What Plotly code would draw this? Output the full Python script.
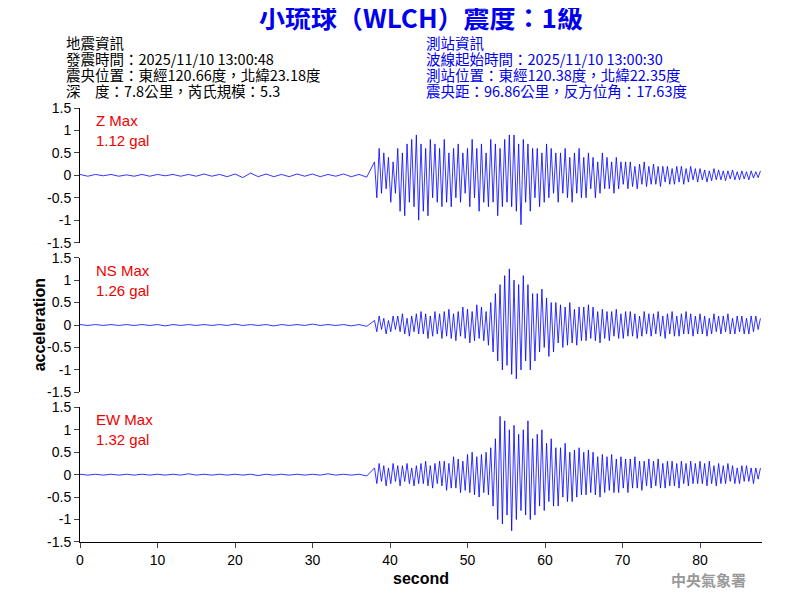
import numpy as np
import plotly.graph_objects as go

pre_dt = 1.0
ev_dt = 0.3
ev_start = 38.0

z_pre = [0.02,-0.02,0.02,-0.01,0.02,-0.02,0.01,-0.02,0.02,-0.02,0.02,-0.01,0.02,-0.02,0.02,-0.02,0.03,-0.02,0.02,-0.03,0.03,-0.05,0.05,-0.03,0.03,-0.03,0.02,-0.03,0.03,-0.02,0.03,-0.03,0.02,-0.02,0.03,-0.03,0.02,-0.04]
ns_pre = [0.01,-0.01,0.01,-0.01,0.01,-0.01,0.01,-0.01,0.01,-0.01,0.01,-0.02,0.01,-0.01,0.01,-0.01,0.01,-0.01,0.01,-0.01,0.02,-0.01,0.01,-0.01,0.01,-0.02,0.01,-0.01,0.01,-0.01,0.02,-0.01,0.01,-0.01,0.01,-0.02,0.01,-0.03]
ew_pre = [0.01,-0.01,0.01,-0.01,0.01,-0.01,0.01,-0.01,0.01,-0.01,0.01,-0.01,0.01,-0.01,0.02,-0.01,0.01,-0.01,0.01,-0.01,0.01,-0.01,0.01,-0.02,0.01,-0.01,0.01,-0.01,0.01,-0.01,0.01,-0.01,0.02,-0.01,0.01,-0.01,0.01,-0.03]

z_ev = [0.3,-0.5,0.6,-0.4,0.5,-0.3,0.4,-0.6,0.3,-0.4,
0.6,-0.8,0.5,-0.9,0.7,-0.6,0.8,-0.7,0.9,-1.0,
0.7,-0.8,0.6,-0.9,0.8,-0.5,0.7,-0.6,0.6,-0.7,
0.8,-0.6,0.5,-0.7,0.6,-0.5,0.7,-0.6,0.5,-0.4,
0.6,-0.7,0.8,-0.5,0.6,-0.8,0.7,-0.6,0.5,-0.7,
0.8,-0.6,0.7,-0.9,0.6,-0.7,0.8,-0.6,0.9,-0.7,
0.9,-0.8,0.7,-1.1,0.8,-0.6,0.7,-0.8,0.6,-0.5,
0.6,-0.7,0.5,-0.6,0.7,-0.5,0.6,-0.4,0.5,-0.6,
0.5,-0.4,0.6,-0.5,0.4,-0.6,0.5,-0.4,0.6,-0.5,
0.4,-0.5,0.5,-0.3,0.4,-0.5,0.3,-0.4,0.5,-0.3,
0.4,-0.3,0.3,-0.4,0.4,-0.3,0.3,-0.2,0.3,-0.3,
0.3,-0.25,0.2,-0.3,0.25,-0.2,0.3,-0.25,0.2,-0.2,
0.25,-0.2,0.2,-0.25,0.2,-0.15,0.2,-0.2,0.15,-0.2,
0.2,-0.15,0.2,-0.2,0.15,-0.15,0.2,-0.1,0.15,-0.15,
0.15,-0.1,0.12,-0.15,0.1,-0.12,0.15,-0.1,0.12,-0.1,
0.1,-0.12,0.1,-0.08,0.12,-0.1,0.08,-0.1,0.1,-0.08,
0.08,-0.1,0.1,-0.06,0.08,-0.05,0.1]

ns_ev = [0.1,-0.15,0.2,-0.1,0.15,-0.2,0.1,-0.15,0.2,-0.1,
0.2,-0.15,0.25,-0.2,0.15,-0.25,0.2,-0.15,0.25,-0.2,
0.3,-0.2,0.25,-0.3,0.2,-0.25,0.3,-0.2,0.25,-0.3,
0.3,-0.25,0.35,-0.3,0.25,-0.35,0.3,-0.25,0.4,-0.3,
0.35,-0.4,0.3,-0.35,0.45,-0.3,0.4,-0.35,0.3,-0.45,
0.5,-0.6,0.7,-0.8,0.9,-1.0,1.1,-0.9,1.25,-1.1,
1.0,-1.2,0.9,-1.0,1.1,-0.8,0.9,-1.0,0.7,-0.8,
0.7,-0.6,0.8,-0.5,0.6,-0.7,0.5,-0.6,0.5,-0.4,
0.45,-0.5,0.4,-0.45,0.5,-0.4,0.35,-0.45,0.4,-0.35,
0.4,-0.35,0.45,-0.3,0.4,-0.35,0.3,-0.4,0.35,-0.3,
0.3,-0.35,0.3,-0.25,0.35,-0.3,0.25,-0.3,0.3,-0.25,
0.3,-0.25,0.25,-0.3,0.2,-0.25,0.3,-0.2,0.25,-0.25,
0.25,-0.2,0.3,-0.25,0.2,-0.3,0.25,-0.2,0.3,-0.25,
0.2,-0.25,0.25,-0.2,0.3,-0.2,0.25,-0.25,0.2,-0.2,
0.25,-0.2,0.2,-0.25,0.15,-0.2,0.25,-0.15,0.2,-0.2,
0.2,-0.15,0.25,-0.2,0.15,-0.2,0.2,-0.15,0.2,-0.2,
0.15,-0.2,0.2,-0.15,0.2,-0.1,0.15]

ew_ev = [0.15,-0.2,0.25,-0.15,0.2,-0.25,0.15,-0.2,0.25,-0.15,
0.2,-0.25,0.2,-0.15,0.25,-0.2,0.15,-0.25,0.2,-0.2,
0.25,-0.2,0.3,-0.25,0.2,-0.3,0.25,-0.2,0.3,-0.25,
0.3,-0.35,0.25,-0.3,0.4,-0.3,0.35,-0.4,0.3,-0.35,
0.45,-0.4,0.5,-0.45,0.4,-0.5,0.45,-0.4,0.5,-0.45,
0.6,-0.7,0.8,-1.0,1.3,-1.1,1.2,-0.9,1.0,-1.25,
1.1,-1.0,0.9,-0.8,1.0,-0.9,1.2,-1.0,0.8,-0.9,
0.9,-0.7,1.0,-0.8,0.7,-0.6,0.8,-0.7,0.6,-0.7,
0.6,-0.5,0.7,-0.6,0.5,-0.6,0.55,-0.5,0.6,-0.45,
0.5,-0.45,0.55,-0.4,0.5,-0.45,0.4,-0.5,0.45,-0.4,
0.4,-0.35,0.45,-0.4,0.35,-0.4,0.4,-0.3,0.35,-0.4,
0.35,-0.3,0.4,-0.3,0.3,-0.35,0.3,-0.25,0.35,-0.3,
0.3,-0.25,0.35,-0.3,0.25,-0.3,0.3,-0.25,0.3,-0.25,
0.25,-0.3,0.3,-0.2,0.25,-0.25,0.3,-0.2,0.25,-0.2,
0.3,-0.2,0.25,-0.25,0.3,-0.2,0.2,-0.25,0.25,-0.2,
0.2,-0.2,0.25,-0.15,0.2,-0.2,0.15,-0.2,0.2,-0.15,
0.2,-0.15,0.15,-0.2,0.15,-0.1,0.15]

components = ["Z", "NS", "EW"]
max_gal = ["1.12", "1.26", "1.32"]
x_ticks = [0, 10, 20, 30, 40, 50, 60, 70, 80]
y_ticks = [-1.5, -1, -0.5, 0, 0.5, 1, 1.5]
y_tick_labels = ["-1.5", "-1", "-0.5", "0", "0.5", "1", "1.5"]
left_lines = ["地震資訊", "發震時間：2025/11/10 13:00:48", "震央位置：東經120.66度，北緯23.18度", "深　度：7.8公里，芮氏規模：5.3"]
right_lines = ["測站資訊", "波線起始時間：2025/11/10 13:00:30", "測站位置：東經120.38度，北緯22.35度", "震央距：96.86公里，反方位角：17.63度"]

traces = [(z_pre, z_ev), (ns_pre, ns_ev), (ew_pre, ew_ev)]
PH = 435.0
def py(p):
    return 1 + (107.5 - p) / PH

fig = go.Figure()
domains = [[0.6897, 1.0], [0.3448, 0.6552], [0.0, 0.3103]]
for i, (pre, ev) in enumerate(traces):
    t = np.concatenate([np.arange(len(pre)) * pre_dt, ev_start + np.arange(len(ev)) * ev_dt])
    y = np.concatenate([pre, ev])
    ax = "" if i == 0 else str(i + 1)
    fig.add_trace(go.Scatter(x=t, y=y, mode="lines", line=dict(color="#0000ff", width=0.8),
                             xaxis="x" + ax, yaxis="y" + ax, showlegend=False))
    fig.layout["yaxis" + ax] = dict(domain=domains[i], range=[-1.5, 1.5], tickvals=y_ticks,
                                    ticktext=y_tick_labels, ticks="outside", ticklen=5,
                                    showline=True, linecolor="black", showgrid=False,
                                    zeroline=False, tickfont=dict(size=14, color="black"),
                                    anchor="x" + ax)
    fig.layout["xaxis" + ax] = dict(range=[0, 88], tickvals=x_ticks, showgrid=False, zeroline=False,
                                    anchor="y" + ax, matches="x" if i else None,
                                    showticklabels=(i == 2), ticks="outside" if i == 2 else "",
                                    showline=(i == 2), linecolor="black", ticklen=5,
                                    tickfont=dict(size=14, color="black"),
                                    title=dict(text="<b>second</b>", font=dict(size=16, color="black"), standoff=6) if i == 2 else None)
    ytop = domains[i][1]
    fig.add_annotation(x=0.02, y=ytop - 0.005, xref="paper", yref="paper", xanchor="left", yanchor="top",
                       text=f"{components[i]} Max<br>{max_gal[i]} gal", showarrow=False, align="left",
                       font=dict(size=15, color="#ee0000"))

fig.add_annotation(x=-0.075, y=0.5, xref="paper", yref="paper", text="<b>acceleration</b>", textangle=-90,
                   showarrow=False, font=dict(size=16, color="black"))

cjk = "Noto Sans CJK TC"
fig.add_annotation(x=0.5, y=py(-5), xref="paper", yref="paper", text="<b>小琉球（WLCH）震度：1級</b>",
                   showarrow=False, font=dict(size=26, color="#0000ee", family=cjk))

for k, (ltxt, rtxt) in enumerate(zip(left_lines, right_lines)):
    yy = py(42 + 16 * k)
    fig.add_annotation(x=(65 - 80) / 682, y=yy, xref="paper", yref="paper", xanchor="left", yanchor="middle",
                       text=ltxt, showarrow=False, borderpad=0, font=dict(size=14.5, color="black", family=cjk))
    fig.add_annotation(x=(425 - 80) / 682, y=yy, xref="paper", yref="paper", xanchor="left", yanchor="middle",
                       text=rtxt, showarrow=False, borderpad=0, font=dict(size=14.5, color="#0000ee", family=cjk))

fig.add_annotation(x=(748 - 80) / 682, y=py(580), xref="paper", yref="paper", xanchor="right", yanchor="middle",
                   text="<b>中央氣象署</b>", showarrow=False, font=dict(size=15, color="#999999", family=cjk))

fig.update_layout(
    width=800, height=600, margin=dict(l=72, r=46, t=100, b=66),
    plot_bgcolor="white", paper_bgcolor="white",
    font=dict(family="Arial, Liberation Sans, Noto Sans CJK TC", color="black"),
)

fig.write_html("out.html")
